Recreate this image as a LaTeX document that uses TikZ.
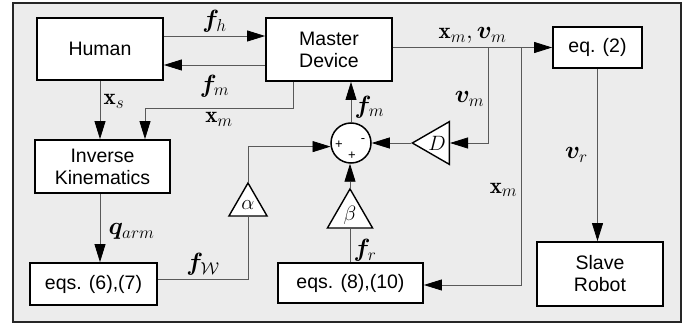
\documentclass[tikz,border=0pt]{standalone}
\usepackage{fontspec}
\setsansfont{Liberation Sans}
\usepackage{amsmath}
\usepackage{amssymb}
\usepackage{bm}
\usetikzlibrary{arrows.meta,shapes.geometric}

\begin{document}
\begin{tikzpicture}[>={Triangle[length=18pt,width=11pt,color=black]},x=1pt,y=-1pt]
  \tikzstyle{block}=[draw=black,line width=1.8pt,fill=white,align=center,inner sep=0pt,
                     font=\sffamily\fontsize{19.5}{22}\selectfont]
  \tikzstyle{gain}=[regular polygon,regular polygon sides=3,draw=black,line width=1.4pt,
                    fill=white,minimum size=44,inner sep=0pt,font=\fontsize{22}{24}\selectfont]
  \tikzstyle{sum}=[circle,draw=black,line width=1.5pt,fill=white,minimum size=40,inner sep=0pt]
  \tikzstyle{sgn}=[inner sep=0pt,font=\sffamily\fontsize{13}{13}\selectfont]
  \tikzstyle{wire}=[->,draw=gray!70!black,line width=0.8pt]
  \tikzstyle{line}=[draw=gray!70!black,line width=0.8pt]
  \tikzstyle{lbl}=[font=\fontsize{23}{25}\selectfont]

  \useasboundingbox (0,0) rectangle (697,326);
  \draw[line width=1.6pt,draw=black!85,fill=gray!15] (13,3) rectangle (681,322);

  \node[block,minimum width=126,minimum height=62] (H)    at (100,49)    {Human};
  \node[block,minimum width=126,minimum height=63] (M)    at (329,49.5)  {Master\\Device};
  \node[block,minimum width=135,minimum height=53] (IK)   at (102.5,166.5) {Inverse\\Kinematics};
  \node[block,minimum width=127,minimum height=42] (E67)  at (93.5,284)  {eqs. (6),(7)};
  \node[block,minimum width=145,minimum height=40] (E810) at (350.5,283) {eqs. (8),(10)};
  \node[block,minimum width=89,minimum height=41]  (E2)   at (597.5,47.5) {eq. (2)};
  \node[block,minimum width=126,minimum height=64] (SR)   at (600,274)   {Slave\\Robot};

  \node[sum] (S) at (351,143) {};
  \node[sgn] (Sa) at (339,145) {+};
  \node[sgn] (Sb) at (363,141) {-};
  \node[sgn] (Sc) at (352,156) {+};

  \node[gain] (A) at (248,205) {$\alpha$};
  \node[gain] (B) at (350,215) {$\beta$};
  \node[gain,shape border rotate=90] (D) at (437,143) {$D$};

  \coordinate (vb) at (488,47.5);
  \coordinate (xb) at (521,47.5);

  % human <-> master
  \draw[wire] ([yshift=13pt]H.east) -- node[lbl,above] {$\bm{f}_h$} ([yshift=13pt]H.east -| M.west);
  \draw[wire] ([yshift=-15.5pt]M.west) -- node[lbl,below=6pt] {$\bm{f}_m$} ([yshift=-15.5pt]M.west -| H.east);
  % inverse kinematics branch
  \draw[wire] (H.south) -- node[lbl,right,pos=0.35] {$\mathbf{x}_s$} (H.south |- IK.north);
  \draw[wire] ([xshift=-36pt]M.south) -- ++(0,27) -| node[lbl,below,pos=0.25] {$\mathbf{x}_m$} ([xshift=42.5pt]IK.north);
  \draw[wire] (IK.south -| H.south) -- node[lbl,right=5pt,pos=0.55] {$\bm{q}_{arm}$} (E67.north -| H.south);
  \draw[line] ([yshift=5pt]E67.east) -| node[lbl,above,pos=0.25] {$\bm{f}_{\mathcal{W}}$} (A.side 2);
  % summing junction
  \draw[wire] (A.corner 1) |- (S.190);
  \draw[wire] (S.north) -- node[lbl,right,pos=0.38] {$\bm{f}_m$} (S.north |- M.south);
  \draw[wire] (B.corner 1) -- (B.corner 1 |- S.south);
  \draw[line] (E810.north -| B.side 2) -- node[lbl,right,pos=0.35] {$\bm{f}_r$} (B.side 2);
  \draw[wire] (D.corner 1) -- (S.east);
  % master to slave
  \draw[wire] (M.east |- E2.west) -- node[lbl,above] {$\mathbf{x}_m,\bm{v}_m$} (E2.west);
  \draw[wire] (vb) |- node[lbl,left,pos=0.27] {$\bm{v}_m$} (D.side 2);
  \draw[wire] (xb) |- node[lbl,left,pos=0.3] {$\mathbf{x}_m$} ([yshift=-2pt]E810.east);
  \draw[wire] (E2.south) -- node[lbl,left=6pt] {$\bm{v}_r$} (E2.south |- SR.north);
\end{tikzpicture}
\end{document}
